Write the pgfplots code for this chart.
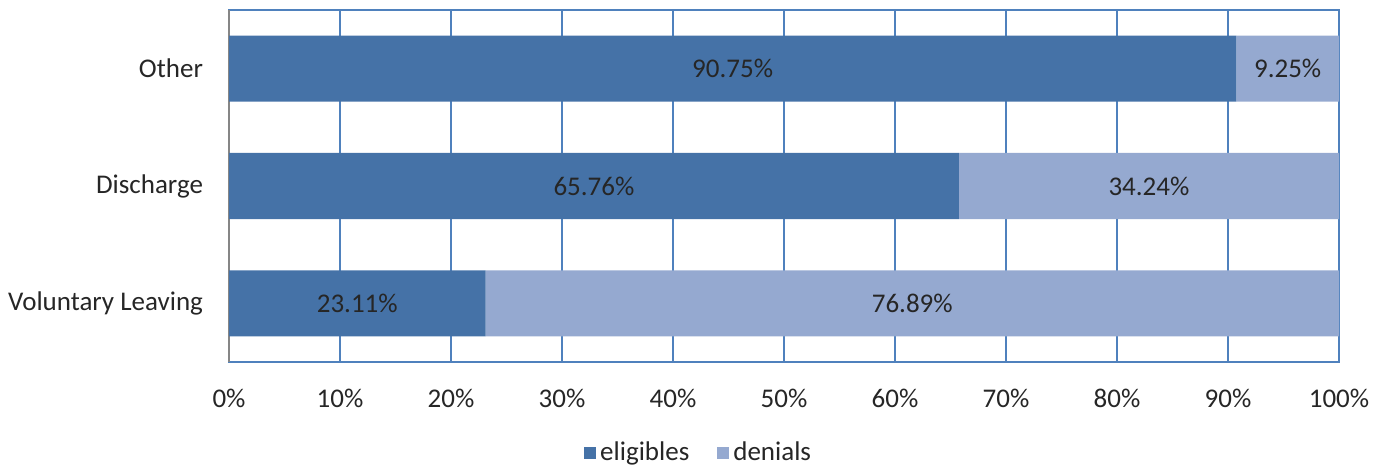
\documentclass[border=0pt]{standalone}
\usepackage{pgfplots}
\pgfplotsset{compat=1.18}
\usepackage{fontspec}
\setmainfont{Carlito}
\definecolor{elig}{HTML}{4572A7}
\definecolor{deni}{HTML}{95A9D0}
\definecolor{gridb}{HTML}{4F81BD}
\definecolor{axgray}{HTML}{868686}
\definecolor{txt}{HTML}{262626}
\begin{document}
\begin{tikzpicture}
\path (0,0) rectangle (692.5pt,234pt);
\begin{axis}[
  at={(114.5pt,53pt)}, anchor=south west,
  scale only axis, width=555pt, height=176pt,
  xbar stacked, bar width=33pt,
  xmin=0, xmax=100, ymin=-0.5, ymax=2.5,
  xtick={0,10,...,100},
  xticklabels={0\%,10\%,20\%,30\%,40\%,50\%,60\%,70\%,80\%,90\%,100\%},
  ytick={0,1,2},
  yticklabels={Voluntary Leaving,Discharge,Other},
  major tick length=0pt,
  xmajorgrids, major grid style={gridb, line width=1pt},
  axis line style={gridb, line width=1pt},
  tick label style={font=\fontsize{13.5}{15}\selectfont, text=txt},
  xticklabel style={yshift=-10pt},
  yticklabel style={xshift=-9.5pt},
  legend style={at={(0.424,-0.2585)}, anchor=center, draw=none, legend columns=2,
    font=\fontsize{13.5}{15}\selectfont, text=txt,
    /tikz/every even column/.append style={column sep=12pt}},
  legend image code/.code={\fill[#1] (0pt,-3pt) rectangle (6pt,3pt);},
  clip=false,
]
\addplot[fill=elig, draw=none] coordinates {(23.11,0) (65.76,1) (90.75,2)};
\addplot[fill=deni, draw=none] coordinates {(76.89,0) (34.24,1) (9.25,2)};
\legend{eligibles,denials}
\draw[axgray, line width=1pt] (axis cs:0,-0.5) -- (axis cs:0,2.5);
\end{axis}
\begin{axis}[
  at={(114.5pt,53pt)}, anchor=south west,
  scale only axis, width=555pt, height=176pt,
  xmin=0, xmax=100, ymin=-0.5, ymax=2.5,
  hide axis,
  nodes near coords, point meta=explicit symbolic,
  every node near coord/.style={anchor=center, font=\fontsize{13.5}{15}\selectfont, text=txt},
]
\addplot[draw=none, mark=none, only marks] coordinates {
  (11.555,0) [23.11\%] (61.555,0) [76.89\%]
  (32.88,1) [65.76\%] (82.88,1) [34.24\%]
  (45.375,2) [90.75\%] (95.375,2) [9.25\%]
};
\end{axis}
\end{tikzpicture}
\end{document}
